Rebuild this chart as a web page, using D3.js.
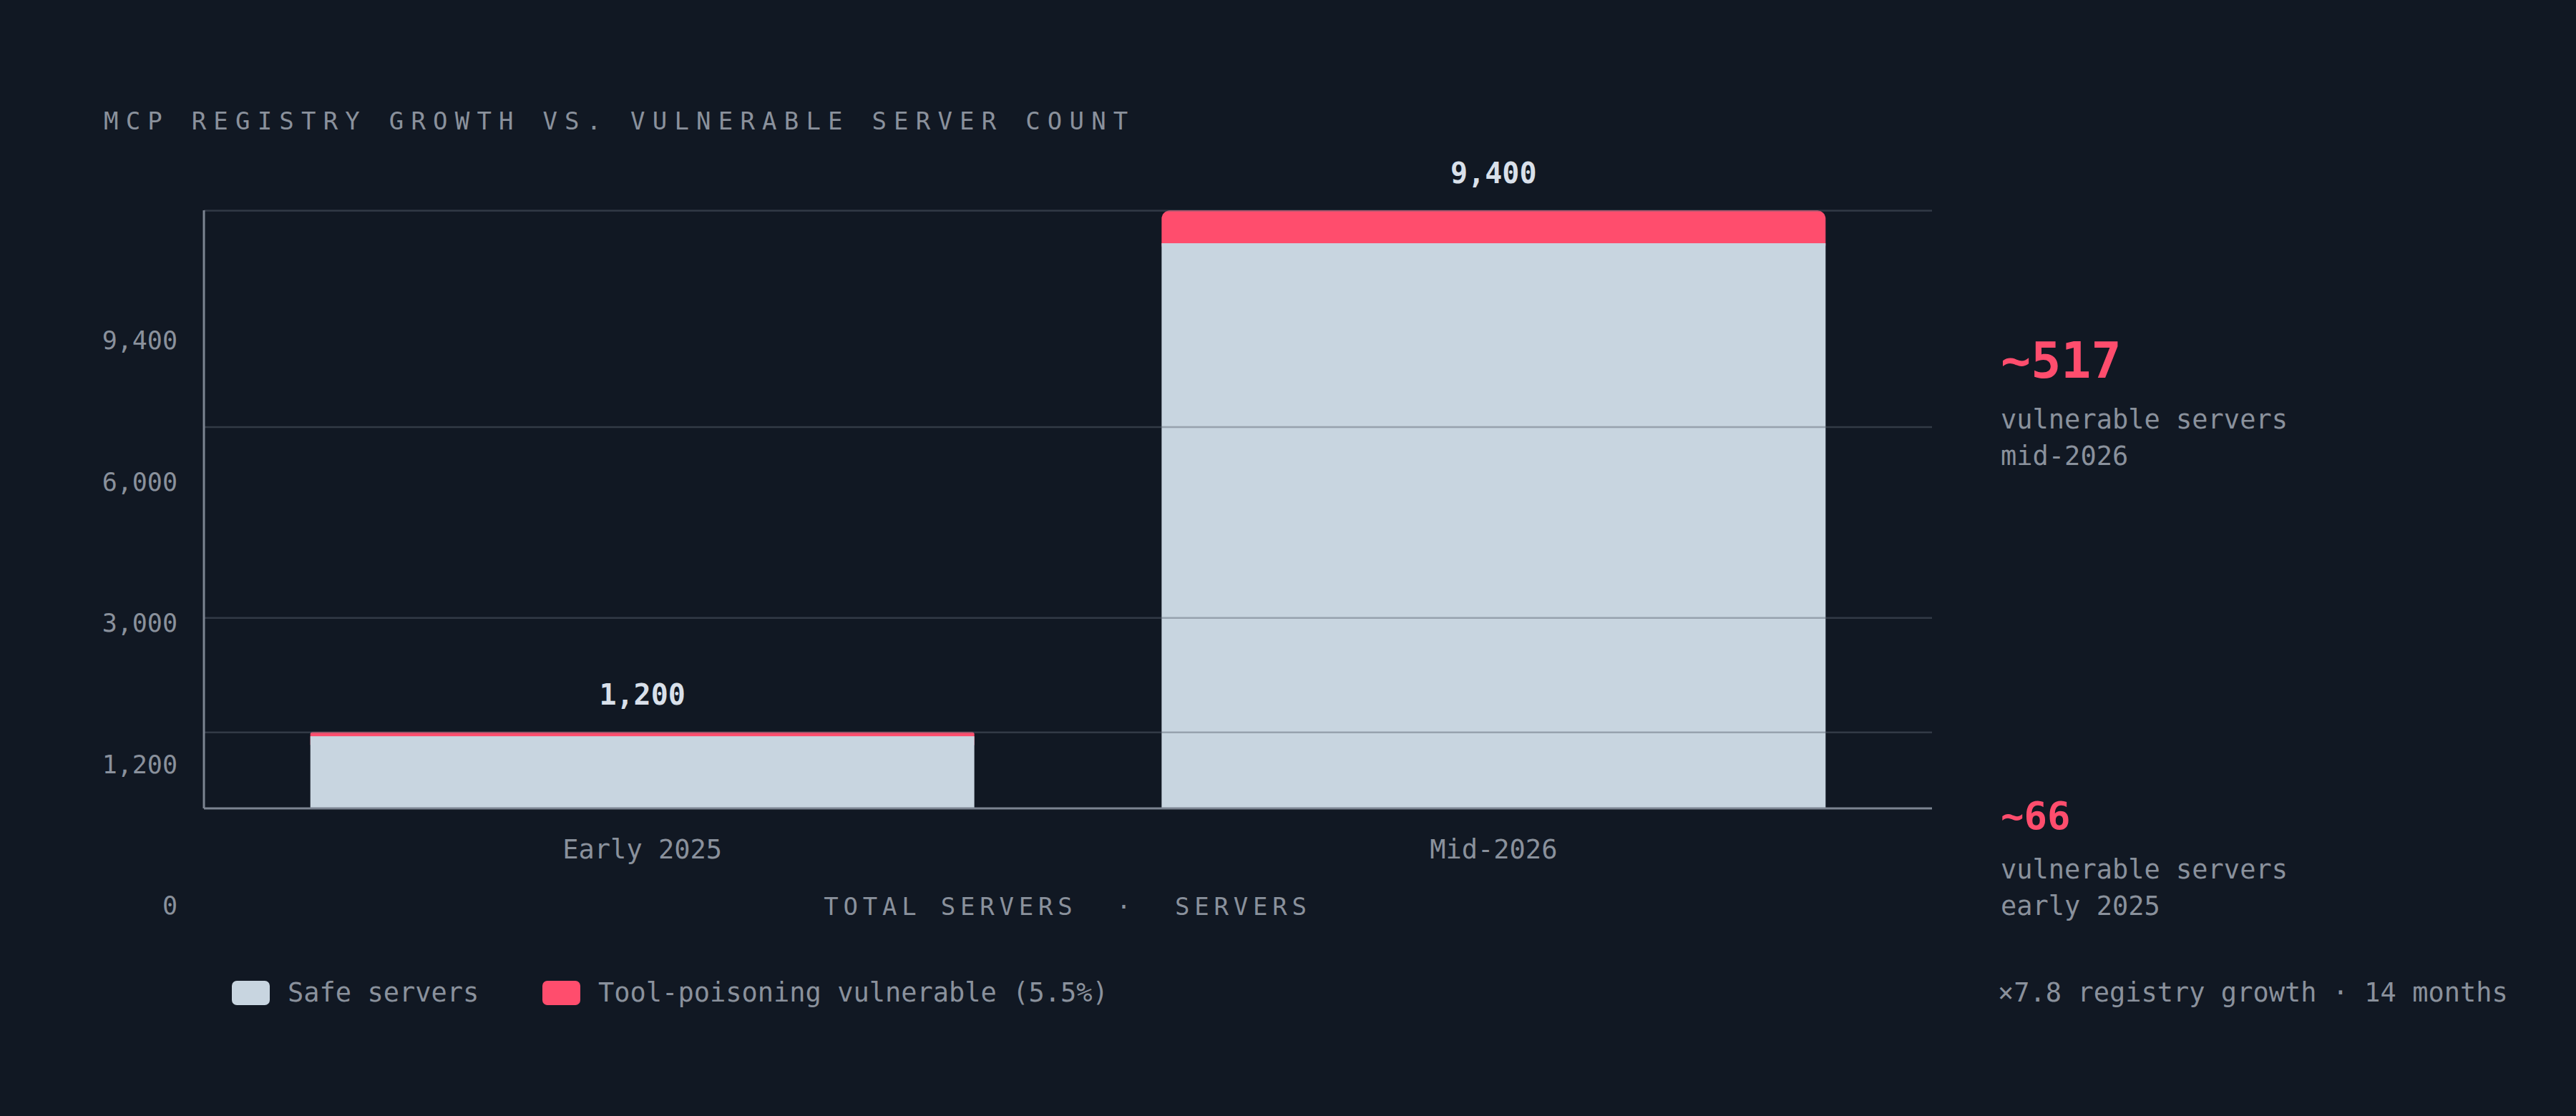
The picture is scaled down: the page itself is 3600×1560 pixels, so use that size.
<!DOCTYPE html>
<html><head><meta charset="utf-8">
<script src="https://cdn.jsdelivr.net/npm/d3@7"></script>
<style>html,body{margin:0;background:#111823;}svg{display:block}text{font-family:"DejaVu Sans Mono","Liberation Mono",monospace}</style>
</head><body>
<svg id="c" width="3600" height="1560"></svg>
<script>
const categories = ["Early 2025", "Mid-2026"];
const totals = [1200, 9400];
const vulnerable = [66, 517];
const gridValues = [1200, 3000, 6000, 9400];
const tickLabels = ["9,400", "6,000", "3,000", "1,200", "0"];
const annotations = [
  {big: "~517", l1: "vulnerable servers", l2: "mid-2026"},
  {big: "~66", l1: "vulnerable servers", l2: "early 2025"}
];

const svg = d3.select("#c");
svg.append("rect").attr("width",3600).attr("height",1560).attr("fill","#111823");
const grey = "#8a919c", safeC = "#c8d5e0", red = "#ff4d6d";
const L = 285, R = 2700, T = 294, B = 1130;
const x = d3.scaleBand().domain(categories).range([L, R]).paddingInner(0.22).paddingOuter(0.125);
const y = d3.scaleLinear().domain([0, 9400]).range([B, T]);

svg.append("text").attr("x",145).attr("y",181).attr("fill",grey).attr("font-size",34)
  .attr("letter-spacing","0.3em").text("MCP REGISTRY GROWTH VS. VULNERABLE SERVER COUNT");

const data = categories.map((c,i)=>({c, total: totals[i], vuln: vulnerable[i]}));
// vulnerable (top, rounded)
svg.selectAll(".v").data(data).join("rect")
  .attr("x", d=>x(d.c)).attr("width", x.bandwidth())
  .attr("y", d=>y(d.total)).attr("height", d=>Math.min(y(d.total - d.vuln) - y(d.total) + 14, B - y(d.total)))
  .attr("rx", d=> d.vuln > 200 ? 12 : 3).attr("fill", red);
svg.selectAll(".s").data(data).join("rect")
  .attr("x", d=>x(d.c)).attr("width", x.bandwidth())
  .attr("y", d=>y(d.total - d.vuln)).attr("height", d=>B - y(d.total - d.vuln))
  .attr("fill", safeC);

// gridlines
svg.selectAll(".g").data(gridValues).join("line")
  .attr("x1", L).attr("x2", R).attr("y1", d=>y(d)+0.5).attr("y2", d=>y(d)+0.5)
  .attr("stroke", "#5a6370").attr("stroke-opacity", 0.45).attr("stroke-width", 2.5);
// axes lines
svg.append("line").attr("x1",L).attr("x2",L).attr("y1",T).attr("y2",B).attr("stroke","#7c8491").attr("stroke-width",3);
svg.append("line").attr("x1",L).attr("x2",R).attr("y1",B).attr("y2",B).attr("stroke","#7c8491").attr("stroke-width",3);

// y labels (evenly spaced as in reference)
tickLabels.forEach((t,i)=>{
  svg.append("text").attr("x",248).attr("y",488 + i*197.5).attr("text-anchor","end")
    .attr("fill",grey).attr("font-size",35).text(t);
});

// value labels
svg.selectAll(".vl").data(data).join("text")
  .attr("x", d=>x(d.c)+x.bandwidth()/2).attr("y", d=>y(d.total)-38)
  .attr("text-anchor","middle").attr("fill","#d9e0ea").attr("font-size",40).attr("font-weight","bold")
  .text(d=>d3.format(",")(d.total));

// x labels
svg.selectAll(".xl").data(categories).join("text")
  .attr("x", d=>x(d)+x.bandwidth()/2).attr("y", 1200).attr("text-anchor","middle")
  .attr("fill",grey).attr("font-size",37).text(d=>d);
svg.append("text").attr("x",1492).attr("y",1279).attr("text-anchor","middle").attr("fill",grey)
  .attr("font-size",34).attr("letter-spacing","0.2em").attr("xml:space","preserve").text("TOTAL SERVERS  ·  SERVERS");

// legend
const leg = [{t:"Safe servers", c:safeC, x:324}, {t:"Tool-poisoning vulnerable (5.5%)", c:red, x:758}];
leg.forEach(l=>{
  svg.append("rect").attr("x",l.x).attr("y",1371).attr("width",53).attr("height",34).attr("rx",7).attr("fill",l.c);
  svg.append("text").attr("x",l.x+78).attr("y",1400).attr("fill",grey).attr("font-size",37).text(l.t);
});

// annotations
const aY = [528, 1159], aS = [70, 54], lY = [[599,650],[1228,1279]];
annotations.forEach((a,i)=>{
  svg.append("text").attr("x",2796).attr("y",aY[i]).attr("fill",red).attr("font-size",aS[i]).attr("font-weight","bold").text(a.big);
  svg.append("text").attr("x",2796).attr("y",lY[i][0]).attr("fill",grey).attr("font-size",37).text(a.l1);
  svg.append("text").attr("x",2796).attr("y",lY[i][1]).attr("fill",grey).attr("font-size",37).text(a.l2);
});
svg.append("text").attr("x",2792).attr("y",1400).attr("fill",grey).attr("font-size",37).text("×7.8 registry growth · 14 months");
</script>
</body></html>
